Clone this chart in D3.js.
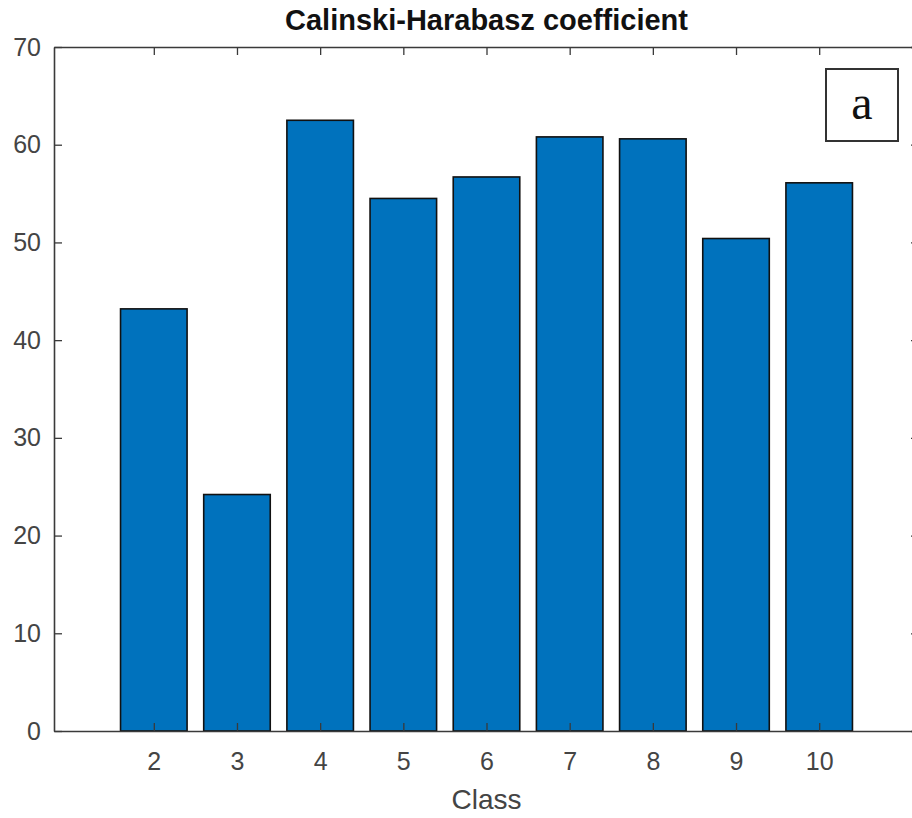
<!DOCTYPE html>
<html>
<head>
<meta charset="utf-8">
<script src="https://cdn.jsdelivr.net/npm/d3@7"></script>
<style>
  html, body { margin: 0; padding: 0; background: #fff; }
  svg { display: block; }
  text { font-family: "Liberation Sans", Arial, Helvetica, sans-serif; }
</style>
</head>
<body>
<svg id="chart" width="912" height="818"></svg>
<script>
// Calinski-Harabasz criterion value per number of classes
const classes = [2, 3, 4, 5, 6, 7, 8, 9, 10];
const chValues = [43.2, 24.2, 62.5, 54.5, 56.7, 60.8, 60.6, 50.4, 56.1];
const yTicks = [0, 10, 20, 30, 40, 50, 60, 70];
const titleText = "Calinski-Harabasz coefficient";
const xLabelText = "Class";
const panelTag = "a";

const svg = d3.select("#chart");
const plot = { left: 54, right: 919, top: 47, bottom: 731 };

const x = d3.scaleLinear().domain([0.8, 11.2]).range([plot.left, plot.right]);
const y = d3.scaleLinear().domain([0, 70]).range([plot.bottom, plot.top]);
const barWidth = 0.8; // in class units

const axisColor = "#3a3a3a";
const tickLen = 8;

// bars
svg.append("g")
  .selectAll("rect")
  .data(classes.map((c, i) => ({ c, v: chValues[i] })))
  .join("rect")
  .attr("x", d => x(d.c - barWidth / 2))
  .attr("width", d => x(d.c + barWidth / 2) - x(d.c - barWidth / 2))
  .attr("y", d => y(d.v))
  .attr("height", d => y(0) - y(d.v))
  .attr("fill", "#0072BD")
  .attr("stroke", "#111")
  .attr("stroke-width", 1.6);

function styleAxis(g) {
  g.select(".domain").attr("stroke", axisColor).attr("stroke-width", 1.6);
  g.selectAll(".tick line").attr("stroke", axisColor).attr("stroke-width", 1.3);
  g.selectAll(".tick text")
    .attr("fill", "#444")
    .style("font-size", "25px")
    .style("font-family", "'Liberation Sans', Arial, Helvetica, sans-serif");
}

// bottom axis
svg.append("g")
  .attr("transform", `translate(0,${plot.bottom})`)
  .call(d3.axisBottom(x).tickValues(classes).tickFormat(d3.format("d"))
        .tickSizeInner(-tickLen).tickSizeOuter(0).tickPadding(21))
  .call(styleAxis);

// top axis (ticks only)
svg.append("g")
  .attr("transform", `translate(0,${plot.top})`)
  .call(d3.axisTop(x).tickValues(classes).tickFormat("")
        .tickSizeInner(-tickLen).tickSizeOuter(0))
  .call(styleAxis);

// left axis
svg.append("g")
  .attr("transform", `translate(${plot.left},0)`)
  .call(d3.axisLeft(y).tickValues(yTicks).tickFormat(d3.format("d"))
        .tickSizeInner(-tickLen).tickSizeOuter(0).tickPadding(13))
  .call(styleAxis);

// right axis (ticks only)
svg.append("g")
  .attr("transform", `translate(${plot.right},0)`)
  .call(d3.axisRight(y).tickValues(yTicks).tickFormat("")
        .tickSizeInner(-tickLen).tickSizeOuter(0))
  .call(styleAxis);

// title
svg.append("text")
  .attr("x", (plot.left + plot.right) / 2)
  .attr("y", 30)
  .attr("text-anchor", "middle")
  .attr("fill", "#111")
  .style("font-size", "29px")
  .style("font-weight", "bold")
  .text(titleText);

// x-axis label
svg.append("text")
  .attr("x", (plot.left + plot.right) / 2)
  .attr("y", 809)
  .attr("text-anchor", "middle")
  .attr("fill", "#444")
  .style("font-size", "28px")
  .text(xLabelText);

// panel tag box
const tag = svg.append("g");
tag.append("rect")
  .attr("x", 826).attr("y", 69)
  .attr("width", 72).attr("height", 72)
  .attr("fill", "#fff")
  .attr("stroke", "#333")
  .attr("stroke-width", 2);
tag.append("text")
  .attr("x", 862).attr("y", 119)
  .attr("text-anchor", "middle")
  .attr("fill", "#111")
  .style("font-family", "'Liberation Serif', 'Times New Roman', serif")
  .style("font-size", "48px")
  .text(panelTag);
</script>
</body>
</html>
